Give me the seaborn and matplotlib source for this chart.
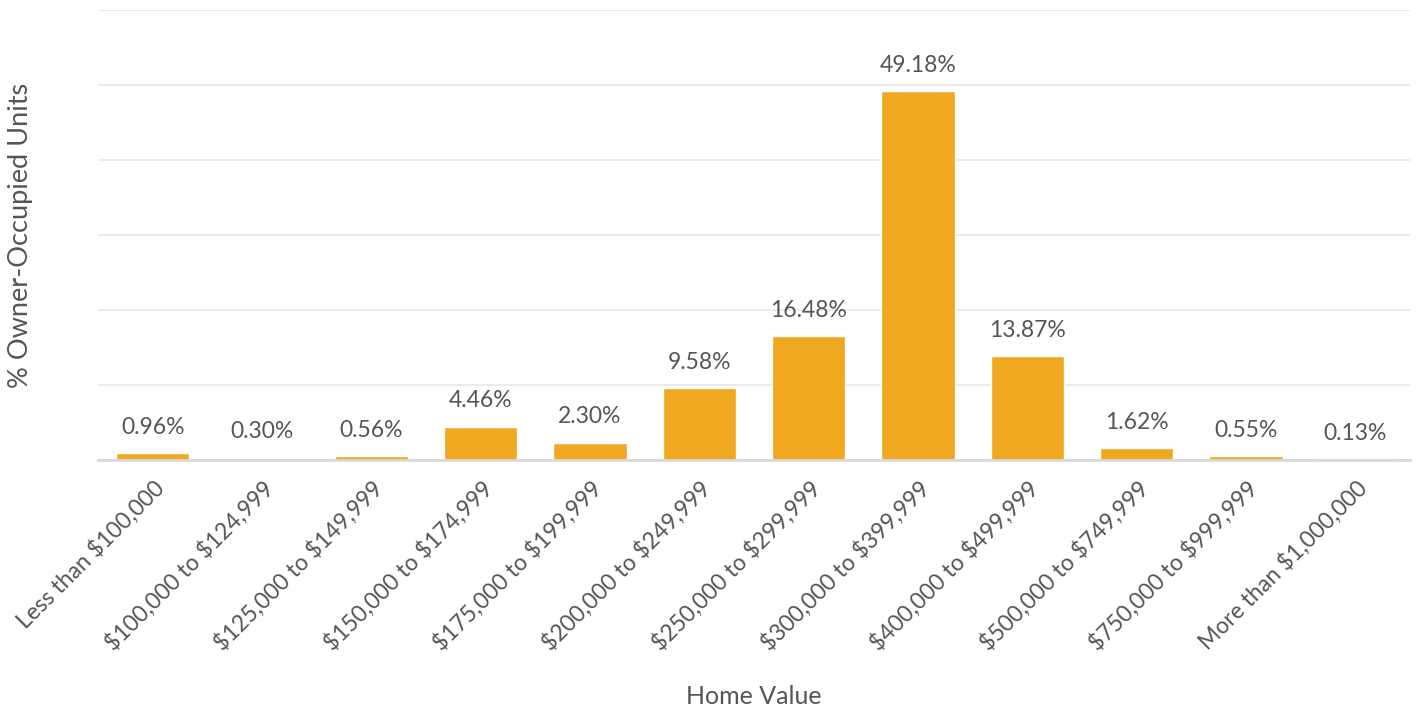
import matplotlib
matplotlib.use("Agg")
import matplotlib.pyplot as plt
import seaborn as sns
import pandas as pd

categories = ["Less than $100,000", "$100,000 to $124,999", "$125,000 to $149,999",
              "$150,000 to $174,999", "$175,000 to $199,999", "$200,000 to $249,999",
              "$250,000 to $299,999", "$300,000 to $399,999", "$400,000 to $499,999",
              "$500,000 to $749,999", "$750,000 to $999,999", "More than $1,000,000"]
values = [0.96, 0.30, 0.56, 4.46, 2.30, 9.58, 16.48, 49.18, 13.87, 1.62, 0.55, 0.13]

sns.set_theme(style="white")
plt.rcParams['font.family'] = ['Lato', 'DejaVu Sans']
text_color = "#555555"

df = pd.DataFrame({"cat": categories, "val": values})
fig = plt.figure(figsize=(14.19, 7.06), dpi=100)
ax = fig.add_axes([98/1419, 1 - 460/706, (1410-98)/1419, 450/706])

sns.barplot(data=df, x="cat", y="val", color="#F0A820", saturation=1, width=0.67, ax=ax)

ax.set_ylim(0, 60)
ax.set_yticks(range(0, 61, 10))
ax.set_yticklabels([])
ax.tick_params(axis="y", length=0)
ax.yaxis.grid(True, color="#EBEBEB", linewidth=1.5)
ax.set_axisbelow(True)
for s in ["top", "right", "left"]:
    ax.spines[s].set_visible(False)
ax.spines["bottom"].set_color("#D9D9D9")
ax.spines["bottom"].set_linewidth(2)
ax.set_xlim(-0.5, len(categories) - 0.5)

for i, v in enumerate(values):
    ax.annotate(f"{v:.2f}%", (i, v), xytext=(0, 11), textcoords="offset points",
                ha="center", va="bottom", fontsize=16.5, color=text_color)

ax.set_xticks(range(len(categories)))
ax.set_xticklabels([c.replace("$", r"\$") for c in categories], rotation=45, ha="right",
                   rotation_mode="anchor", fontsize=16.5, color=text_color)
ax.tick_params(axis="x", length=0, pad=12)
ax.set_xlabel("Home Value", fontsize=18, color=text_color, labelpad=22)
ax.set_ylabel("% Owner-Occupied Units", fontsize=19.5, color=text_color)
ax.yaxis.set_label_coords(-65/1312, 0.5)

fig.savefig("out.png", dpi=100)
